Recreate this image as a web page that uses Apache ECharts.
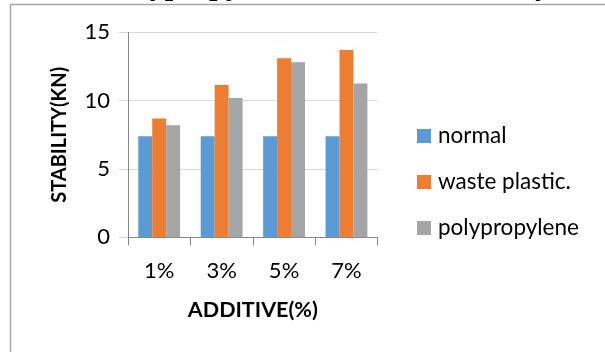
<!DOCTYPE html>
<html>
<head>
<meta charset="utf-8">
<script src="https://cdn.jsdelivr.net/npm/echarts@6/dist/echarts.min.js"></script>
<style>
html,body{margin:0;padding:0;background:#fff;}
#chart{width:605px;height:352px;}
</style>
</head>
<body>
<div id="chart"></div>
<script>
const categories = ['1%', '3%', '5%', '7%'];
const seriesNames = ['normal', 'waste plastic.', 'polypropylene'];
const normal = [7.4, 7.4, 7.4, 7.4];
const wastePlastic = [8.7, 11.15, 13.1, 13.7];
const polypropylene = [8.2, 10.2, 12.8, 11.25];
const yTicks = [0, 5, 10, 15];
const colors = ['#5B9BD5', '#ED7D31', '#A5A5A5'];
const FONT = 'Lato';

const chart = echarts.init(document.getElementById('chart'), null, {renderer: 'canvas'});
const dataSets = [normal, wastePlastic, polypropylene];
chart.setOption({
  animation: false,
  backgroundColor: '#fff',
  grid: {left: 128, right: 227.3, top: 32.3, bottom: 114.7, containLabel: false},
  legend: {
    orient: 'vertical',
    left: 412, top: 119.5,
    itemWidth: 14, itemHeight: 14, itemGap: 23,
    icon: 'rect',
    textStyle: {fontFamily: FONT, fontSize: 22.5, color: '#000', padding: [0, 0, 0, 2]},
    data: seriesNames
  },
  xAxis: {
    type: 'category',
    data: categories,
    name: 'ADDITIVE(%)',
    nameLocation: 'middle',
    nameGap: 62,
    nameTextStyle: {fontFamily: FONT, fontSize: 21.5, fontWeight: 'bold', color: '#000'},
    axisLine: {show: true, lineStyle: {color: '#868686', width: 1}},
    axisTick: {show: true, length: 8, lineStyle: {color: '#868686'}},
    axisLabel: {fontFamily: FONT, fontSize: 22, color: '#000', margin: 23}
  },
  yAxis: {
    type: 'value',
    min: yTicks[0], max: yTicks[yTicks.length - 1], interval: 5,
    name: 'STABILITY(KN)',
    nameLocation: 'middle',
    nameGap: 58,
    nameRotate: 90,
    nameTextStyle: {fontFamily: FONT, fontSize: 20, fontWeight: 'bold', color: '#000'},
    axisLine: {show: true, lineStyle: {color: '#868686', width: 1}},
    axisTick: {show: true, length: 9, lineStyle: {color: '#d9d9d9'}},
    splitLine: {show: true, lineStyle: {color: '#d9d9d9', width: 1}},
    axisLabel: {fontFamily: FONT, fontSize: 22, color: '#000', margin: 18}
  },
  graphic: [
    {type: 'rect', silent: true, shape: {x: 10.5, y: 4.5, width: 800, height: 500},
     style: {fill: 'none', stroke: '#a6a6a6', lineWidth: 1.5}},
    {type: 'text', silent: true, left: 108, top: -27.5,
     style: {text: 'Polypropylene and Waste Stability', font: 'bold 30px "Liberation Serif"', fill: '#000'}}
  ],
  series: dataSets.map((d, i) => ({
    name: seriesNames[i],
    type: 'bar',
    data: d,
    barGap: '0%',
    barCategoryGap: '33%',
    itemStyle: {color: colors[i]}
  }))
});
</script>
</body>
</html>
